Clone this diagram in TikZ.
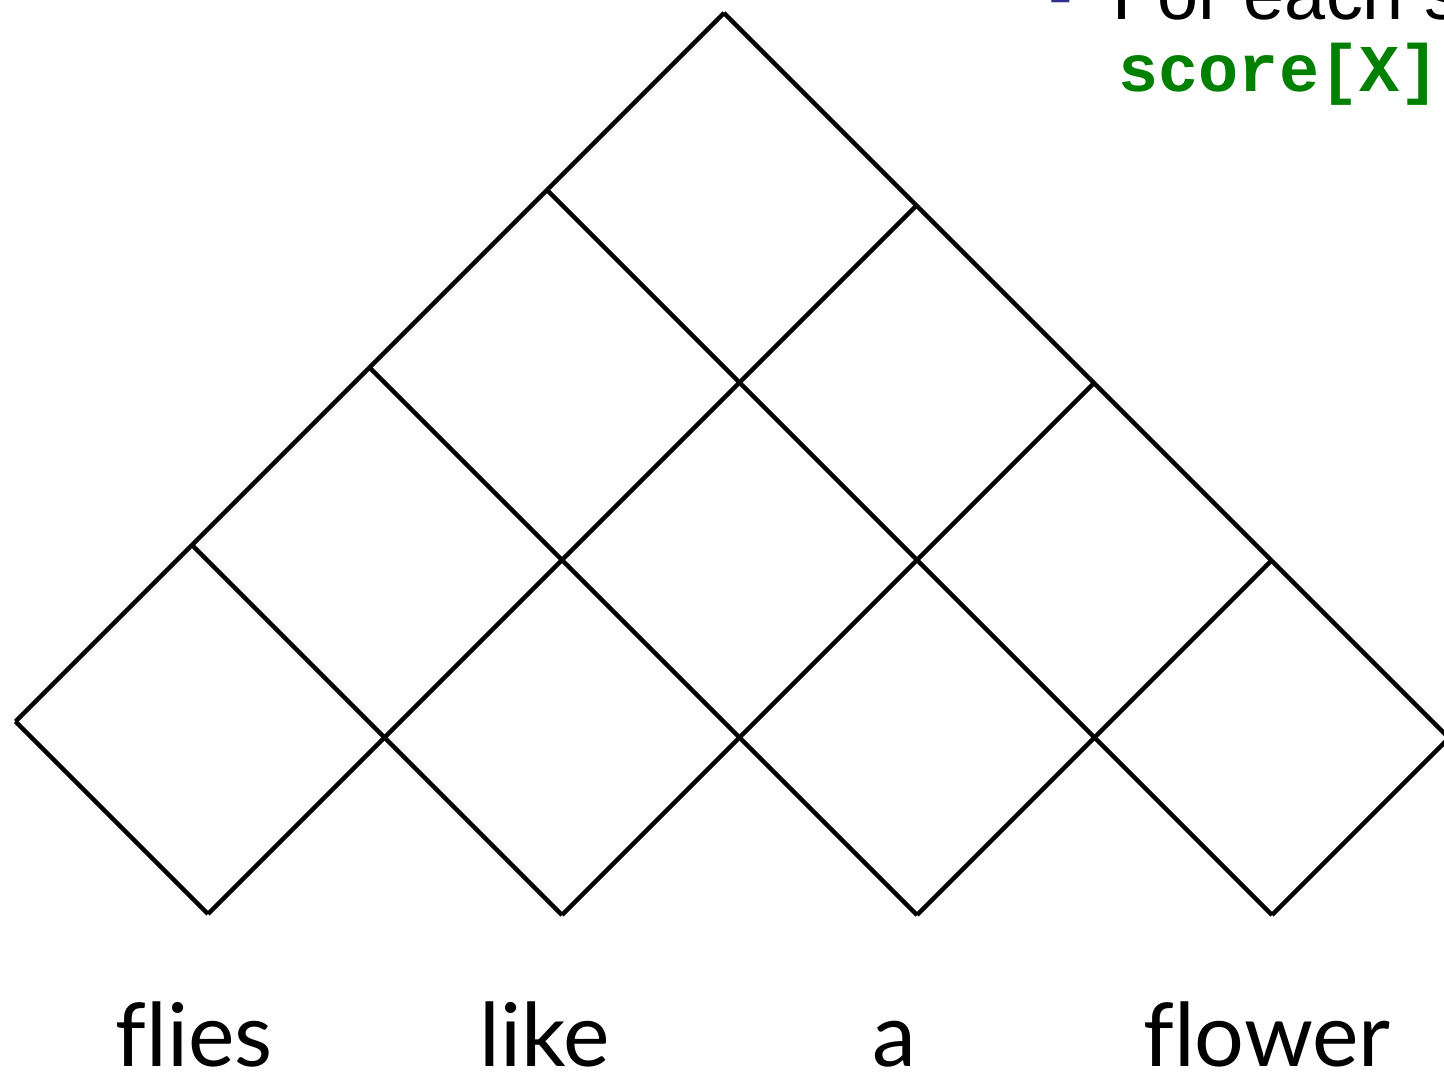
\documentclass[tikz,border=0pt]{standalone}
\usepackage{fontspec}
\setmainfont[Ligatures=CommonOff]{Lato}
\newfontfamily\slidefont{Liberation Sans}
\newfontfamily\codefont{Liberation Mono}
\usepackage{tikz}

\definecolor{codegreen}{RGB}{0,128,0}
\definecolor{bulletblue}{RGB}{46,49,146}

\begin{document}
\begin{tikzpicture}[x=0.01cm,y=-0.01cm,
  chart/.style={line width=1.3pt,black},
  word/.style={anchor=base,inner sep=0pt,font=\fontsize{25}{30}\selectfont}]
\useasboundingbox (0,0) rectangle (1444,1076);
\clip (0,0) rectangle (1444,1076);
% lattice points of the chart
\foreach \a/\u in {0/737,1/1122,2/1477,3/1832,4/2187}{
  \foreach \b/\v in {0/706,1/353,2/-2,3/-357,4/-711}{
    \coordinate (c\a\b) at ({(\u-\v)/2},{(\u+\v)/2});
  }
}
% rising lines
\foreach \a/\s in {0/0,1/0,2/1,3/2,4/3}{
  \draw[chart] (c\a\s) -- (c\a4);
}
% falling lines
\foreach \b/\e in {0/1,1/2,2/3,3/4,4/4}{
  \draw[chart] (c0\b) -- (c\e\b);
}
% words
\node[word] (w1) at (194,1067) {flies};
\node[word] (w2) at (545,1067) {like};
\node[word] (w3) at (894,1067) {a};
\node[word] (w4) at (1267,1067) {flower};
% slide text, cut off at the corner
\node[anchor=base west,inner sep=0pt,text=bulletblue,font=\slidefont\fontsize{21}{25}\selectfont] (dash) at (1048,20) {-};
\node[anchor=base west,inner sep=0pt,font=\slidefont\fontsize{21}{25}\selectfont] (line1) at (1112,20) {For each s};
\node[anchor=base west,inner sep=0pt,text=codegreen,font=\codefont\bfseries\fontsize{19}{22}\selectfont] (code) at (1118,92) {score[X]};
\end{tikzpicture}
\end{document}
